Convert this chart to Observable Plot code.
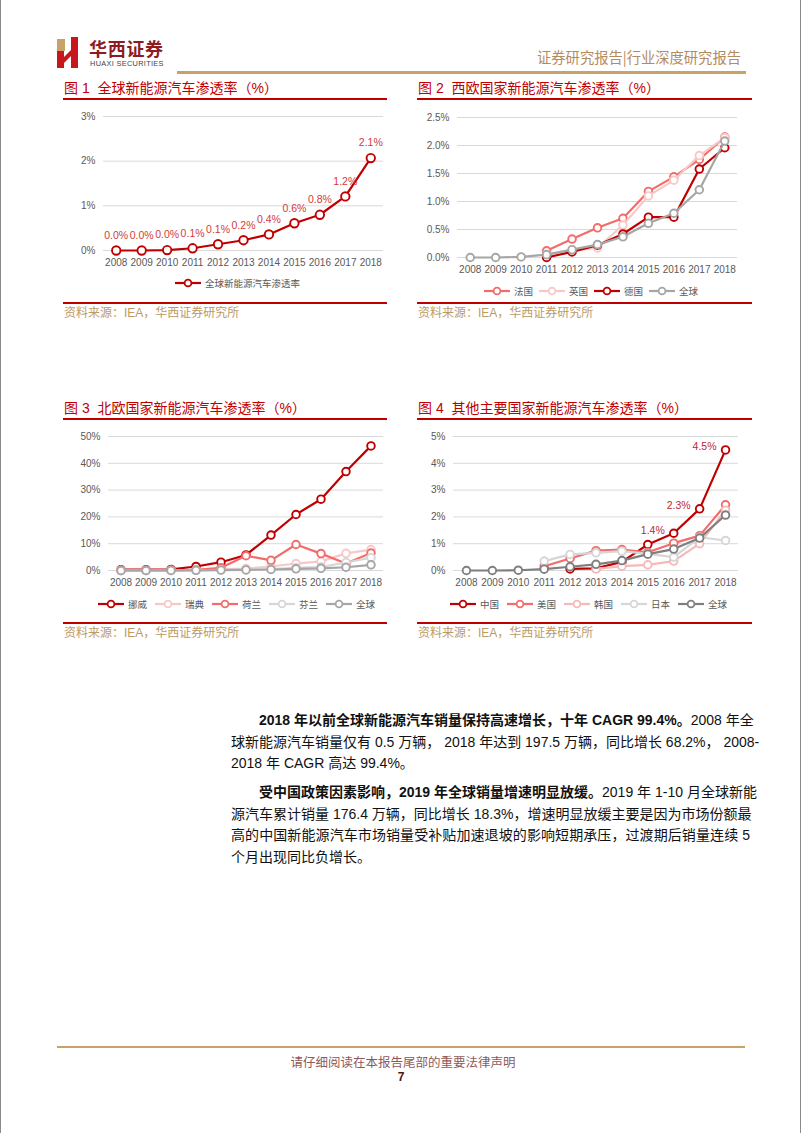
<!DOCTYPE html>
<html><head><meta charset="utf-8">
<script src="https://cdn.jsdelivr.net/npm/d3@7"></script>
<script src="https://cdn.jsdelivr.net/npm/@observablehq/plot@0.6"></script>
<style>
body{margin:0;background:#fff;}
#page{position:relative;width:802px;height:1133px;overflow:hidden;background:#fff;font-family:"Liberation Sans","Noto Sans CJK SC",sans-serif;}
#page:before{content:"";position:absolute;left:0;top:0;bottom:0;width:1px;background:#8a8a8a;}
#page:after{content:"";position:absolute;right:1px;top:0;bottom:0;width:1px;background:#8a8a8a;}
.abs{position:absolute;}
.title{font-size:14px;line-height:16px;color:#c00000;white-space:nowrap;font-family:"Liberation Sans","Noto Sans CJK SC",sans-serif;}
.rule{height:1.5px;background:#c00000;}
.src{font-size:12px;line-height:14px;color:#bd9a64;white-space:nowrap;}
.legend{display:flex;align-items:center;white-space:nowrap;font-size:9.5px;line-height:12px;color:#595959;font-family:"Noto Sans CJK SC",sans-serif;}
.legend .it{display:flex;align-items:center;}
.legend svg{display:block;}
.line{position:absolute;left:231px;width:519px;height:21.7px;line-height:21.7px;font-size:14px;color:#111;white-space:nowrap;text-align:justify;text-align-last:justify;}
.line.last{text-align-last:left;}
.line.ind{left:259px;width:491px;}
b{font-weight:bold;}
</style></head><body><div id="page"></div>
<script>
// ---------- data ----------
const years = [2008,2009,2010,2011,2012,2013,2014,2015,2016,2017,2018];

// Fig 1: global NEV penetration (%)
const fig1Global = [0.0,0.0,0.01,0.05,0.14,0.23,0.36,0.61,0.80,1.21,2.07];
const fig1Labels = ["0.0%","0.0%","0.0%","0.1%","0.1%","0.2%","0.4%","0.6%","0.8%","1.2%","2.1%"];

// Fig 2: Western Europe (%)
const fig2France  = [null,null,null,0.12,0.33,0.53,0.70,1.18,1.44,1.75,2.15];
const fig2UK      = [null,null,null,0.06,0.12,0.17,0.58,1.10,1.38,1.82,2.14];
const fig2Germany = [null,null,null,0.00,0.10,0.22,0.42,0.72,0.72,1.58,1.96];
const fig2Global  = [0.0,0.0,0.01,0.05,0.14,0.23,0.37,0.61,0.79,1.21,2.08];

// Fig 3: Northern Europe (%)
const fig3Norway      = [0.3,0.3,0.4,1.5,3.1,5.8,13.2,20.9,26.6,36.9,46.5];
const fig3Sweden      = [0.0,0.0,0.0,0.1,0.6,0.7,1.5,2.6,3.4,6.4,7.8];
const fig3Netherlands = [0.0,0.0,0.1,0.2,1.0,5.5,3.8,9.7,6.3,2.6,6.5];
const fig3Finland     = [0.0,0.0,0.0,0.1,0.2,0.3,0.5,1.0,1.3,3.0,4.8];
const fig3Global      = [0.0,0.0,0.01,0.05,0.14,0.23,0.37,0.61,0.8,1.21,2.1];

// Fig 4: other major countries (%)
const fig4China  = [null,null,null,null,0.06,0.08,0.32,0.97,1.39,2.30,4.50];
const fig4US     = [null,null,null,0.16,0.45,0.74,0.78,0.68,1.02,1.30,2.45];
const fig4Korea  = [null,null,null,null,null,0.06,0.16,0.21,0.35,1.00,2.25];
const fig4Japan  = [null,null,null,0.35,0.60,0.66,0.72,0.62,0.50,1.24,1.12];
const fig4Global = [0.0,0.0,0.01,0.05,0.14,0.23,0.37,0.61,0.80,1.21,2.07];
const fig4LabelYears = [2016,2017,2018];
const fig4Labels = ["1.4%","2.3%","4.5%"];

const fig1Ticks = [0,1,2,3];
const fig2Ticks = [0,0.5,1.0,1.5,2.0,2.5];
const fig3Ticks = [0,10,20,30,40,50];
const fig4Ticks = [0,1,2,3,4,5];

// ---------- styles ----------
const C = {dark:"#c00000", salmon:"#f26c6c", pink:"#f8c8c8", pink2:"#f6b8b8", lgray:"#d6d6d6", gray:"#a6a6a6", dgray:"#7f7f7f"};

const page = document.getElementById("page");
function el(html, cls, style){const d=document.createElement("div");d.className=cls;d.setAttribute("style",style);d.innerHTML=html;page.appendChild(d);return d;}

// ---------- header ----------
el(`<svg width="30" height="34" viewBox="0 0 30 34">
<polygon points="1,2 9,2 9,14 1,14" fill="#c9a26a"/>
<polygon points="1,14 8,14 8,31 1,31" fill="#c8161d"/>
<polygon points="15,0 22,0 22,31 15,31" fill="#c8161d"/>
<polygon points="8,20 15,13 15,19 8,26" fill="#c8161d"/>
</svg>`, "abs", "left:56px;top:37px;");
el("华西证券","abs","left:89px;top:39px;font-size:18px;line-height:18px;font-weight:bold;color:#8e1b1f;font-family:'Noto Sans CJK SC',serif;letter-spacing:0.7px;white-space:nowrap;");
el("HUAXI SECURITIES","abs","left:90px;top:60px;font-size:7.4px;line-height:8px;color:#444;letter-spacing:0.3px;white-space:nowrap;");
el("证券研究报告|行业深度研究报告","abs","left:537px;top:49px;font-size:14.3px;line-height:16px;color:#b38b5d;white-space:nowrap;font-family:'Noto Sans CJK SC',sans-serif;");
el("","abs","left:177px;top:71px;width:569px;height:2.5px;background:#c9a26a;");

// ---------- chart builder ----------
function makeChart(o){
  const marks = [Plot.ruleY(o.ticks,{stroke:"#d9d9d9",strokeWidth:1})];
  o.series.forEach(s=>{
    const data = years.map((y,i)=>({year:y,value:s.values[i]})).filter(d=>d.value!=null);
    marks.push(Plot.line(data,{x:"year",y:"value",stroke:s.color,strokeWidth:2.2}));
    marks.push(Plot.dot(data,{x:"year",y:"value",stroke:s.color,fill:"white",r:o.r||3.8,strokeWidth:1.9}));
  });
  if(o.extra) marks.push(...o.extra);
  marks.push(Plot.axisX(years,{tickSize:0,tickPadding:8,tickFormat:d=>String(d),label:null,fontSize:10}));
  marks.push(Plot.axisY(o.ticks,{tickSize:0,tickPadding:8,tickFormat:o.fmt,label:null,fontSize:10}));
  const svg = Plot.plot({
    width:o.width,height:o.height,marginLeft:o.ml,marginRight:0,marginTop:o.mt,marginBottom:o.height-o.mt-o.ph,
    x:{domain:[2007.5,2018.5]},
    y:{domain:[0,o.ticks[o.ticks.length-1]]},
    style:{fontFamily:"'Liberation Sans',Arial,sans-serif",fontSize:"10px",color:"#595959",background:"transparent",overflow:"visible"},
    marks
  });
  const wrap = el("","abs",`left:${o.left}px;top:${o.top}px;`);
  wrap.appendChild(svg);
  // title, rules, source
  el(o.title,"abs title",`left:${o.left+1}px;top:${o.top-24}px;`);
  el("","abs rule",`left:${o.left}px;top:${o.top-6}px;width:${o.ruleW}px;`);
  el("","abs rule",`left:${o.left}px;top:${o.srcY-11}px;width:${o.ruleW}px;`);
  el("资料来源：IEA，华西证券研究所","abs src",`left:${o.left+1}px;top:${o.srcY-7}px;`);
  // legend
  const lg = el("","abs legend",`left:${o.legLeft}px;top:${o.legY-7}px;height:14px;`);
  o.series.forEach((s,i)=>{
    const it=document.createElement("div");it.className="it";
    it.style.marginRight=(i<o.series.length-1? o.legGap:0)+"px";
    it.innerHTML=`<svg width="26" height="10"><line x1="0" y1="5" x2="26" y2="5" stroke="${s.color}" stroke-width="2.2"/><circle cx="13" cy="5" r="3.4" fill="white" stroke="${s.color}" stroke-width="1.8"/></svg><span style="margin-left:4px">${s.name}</span>`;
    lg.appendChild(it);
  });
}

// Fig 1
const f1data = years.map((y,i)=>({year:y,value:fig1Global[i],label:fig1Labels[i]}));
makeChart({left:63,top:104,width:320,height:170,ml:40,mt:12,ph:134,ticks:fig1Ticks,fmt:d=>d+"%",ruleW:324,srcY:313,
  title:"图 1&nbsp;&nbsp;全球新能源汽车渗透率（%）",r:4.2,
  series:[{name:"全球新能源汽车渗透率",values:fig1Global,color:C.dark}],
  extra:[Plot.text(f1data,{x:"year",y:"value",text:"label",dy:-15,fill:"#d23b3b",fontSize:10.5})],
  legLeft:175,legY:283,legGap:8});

// Fig 2
makeChart({left:417,top:104,width:320,height:177,ml:40,mt:13,ph:140,ticks:fig2Ticks,fmt:d=>d.toFixed(1)+"%",ruleW:335,srcY:313,
  title:"图 2&nbsp;&nbsp;西欧国家新能源汽车渗透率（%）",
  series:[{name:"法国",values:fig2France,color:C.salmon},{name:"英国",values:fig2UK,color:C.pink},
          {name:"德国",values:fig2Germany,color:C.dark},{name:"全球",values:fig2Global,color:C.gray}],
  legLeft:484,legY:291,legGap:6});

// Fig 3
makeChart({left:63,top:424,width:320,height:170,ml:45,mt:12,ph:134,ticks:fig3Ticks,fmt:d=>d+"%",ruleW:324,srcY:633,
  title:"图 3&nbsp;&nbsp;北欧国家新能源汽车渗透率（%）",
  series:[{name:"挪威",values:fig3Norway,color:C.dark},{name:"瑞典",values:fig3Sweden,color:C.pink},
          {name:"荷兰",values:fig3Netherlands,color:C.salmon},{name:"芬兰",values:fig3Finland,color:C.lgray},
          {name:"全球",values:fig3Global,color:C.gray}],
  legLeft:98,legY:604,legGap:8});

// Fig 4
const f4data = fig4LabelYears.map((y,i)=>({year:y,value:fig4China[years.indexOf(y)],label:fig4Labels[i]}));
makeChart({left:417,top:424,width:321,height:170,ml:36,mt:12,ph:134,ticks:fig4Ticks,fmt:d=>d+"%",ruleW:335,srcY:633,
  title:"图 4&nbsp;&nbsp;其他主要国家新能源汽车渗透率（%）",
  series:[{name:"中国",values:fig4China,color:C.dark},{name:"美国",values:fig4US,color:C.salmon},
          {name:"韩国",values:fig4Korea,color:C.pink2},{name:"日本",values:fig4Japan,color:C.lgray},
          {name:"全球",values:fig4Global,color:C.dgray}],
  extra:[Plot.text(f4data,{x:"year",y:"value",text:"label",textAnchor:"end",dx:-9,dy:-3,fill:"#c0282d",fontSize:10.5})],
  legLeft:450,legY:604,legGap:8});

// ---------- body text ----------
const lines = [
  ["ind",710,"<b>2018 年以前全球新能源汽车销量保持高速增长，十年 CAGR 99.4%。</b>2008 年全"],
  ["",731.7,"球新能源汽车销量仅有 0.5 万辆， 2018 年达到 197.5 万辆，同比增长 68.2%， 2008-"],
  ["last",753.4,"2018 年 CAGR 高达 99.4%。"],
  ["ind",782,"<b>受中国政策因素影响，2019 年全球销量增速明显放缓。</b>2019 年 1-10 月全球新能"],
  ["",803.7,"源汽车累计销量 176.4 万辆，同比增长 18.3%，增速明显放缓主要是因为市场份额最"],
  ["",825.4,"高的中国新能源汽车市场销量受补贴加速退坡的影响短期承压，过渡期后销量连续 5"],
  ["last",847.1,"个月出现同比负增长。"]
];
lines.forEach(([c,t,h])=>el(h,"line "+c,`top:${t}px;`));

// ---------- footer ----------
el("","abs","left:57px;top:1046px;width:688px;height:2px;background:#c9a26a;");
el("请仔细阅读在本报告尾部的重要法律声明","abs","left:0;width:806px;text-align:center;top:1055px;font-size:12.5px;line-height:14px;color:#8d5a5a;font-family:'Noto Sans CJK SC',sans-serif;");
el("7","abs","left:0;width:802px;text-align:center;top:1071px;font-size:12px;line-height:13px;font-weight:bold;color:#4a1518;");
</script></body></html>
